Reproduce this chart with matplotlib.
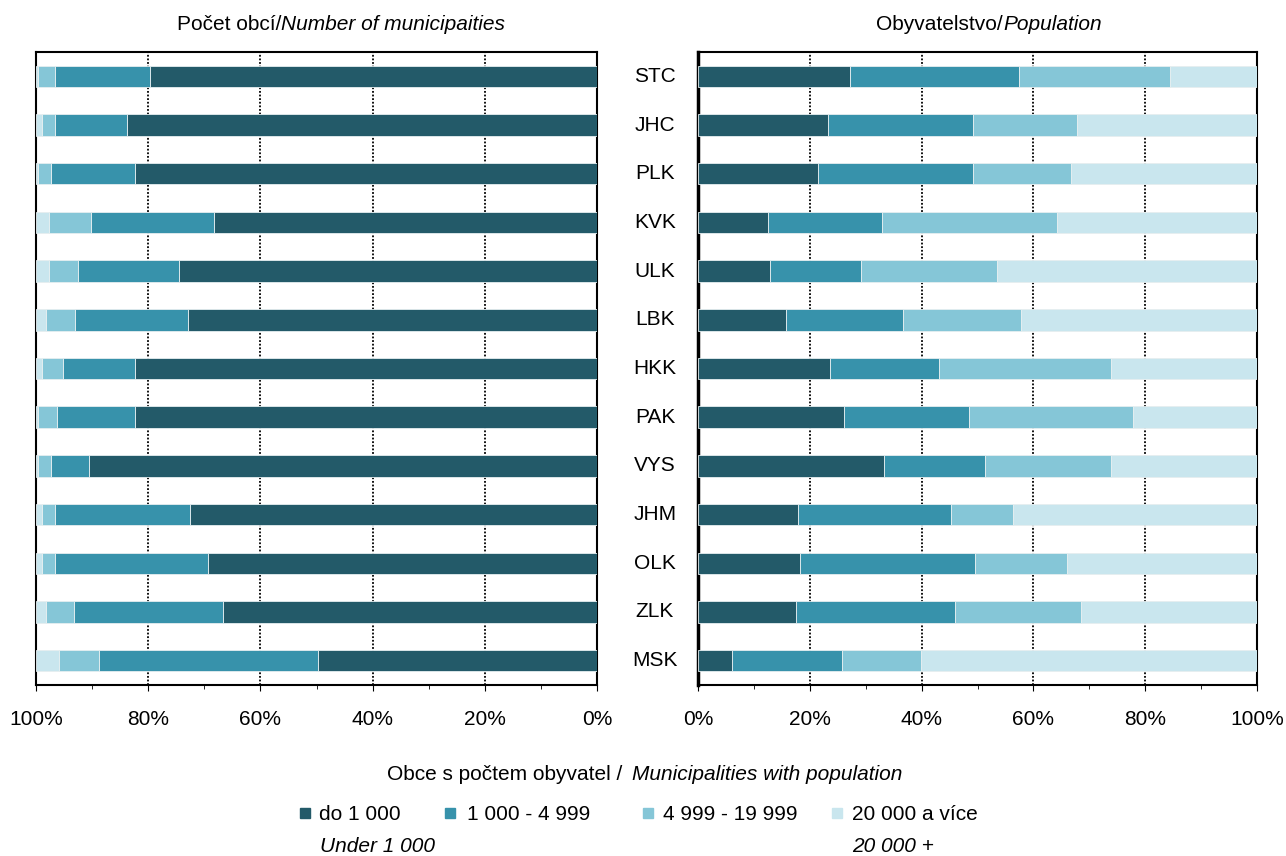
import matplotlib
matplotlib.use('Agg')
import matplotlib.pyplot as plt
from matplotlib.patches import Rectangle
from matplotlib.ticker import MultipleLocator, FuncFormatter
import numpy as np

plt.rcParams['font.family'] = ['Liberation Sans', 'DejaVu Sans']

# kraje (top -> bottom)
regions = ['STC', 'JHC', 'PLK', 'KVK', 'ULK', 'LBK', 'HKK',
           'PAK', 'VYS', 'JHM', 'OLK', 'ZLK', 'MSK']

# Pocet obci - podil (%)
obce_do1000 = [79.6, 83.8, 82.3, 68.2, 74.5, 72.9, 82.3, 82.3, 90.5, 72.6, 69.4, 66.6, 49.8]
obce_1000_4999 = [17.0, 12.8, 15.0, 22.0, 18.1, 20.1, 12.8, 13.9, 6.8, 24.0, 27.2, 26.7, 38.9]
obce_5000_19999 = [3.1, 2.4, 2.4, 7.5, 5.1, 5.3, 3.9, 3.5, 2.4, 2.4, 2.4, 5.0, 7.2]
obce_20000 = [0.3, 1.0, 0.3, 2.3, 2.3, 1.7, 1.0, 0.3, 0.3, 1.0, 1.0, 1.7, 4.1]

# Obyvatelstvo - podil (%)
obyv_do1000 = [27.2, 23.3, 21.4, 12.5, 12.8, 15.7, 23.7, 26.2, 33.3, 17.9, 18.3, 17.5, 6.1]
obyv_1000_4999 = [30.3, 25.9, 27.8, 20.4, 16.3, 21.0, 19.4, 22.3, 18.1, 27.3, 31.2, 28.5, 19.7]
obyv_5000_19999 = [27.0, 18.6, 17.6, 31.4, 24.4, 21.1, 30.7, 29.4, 22.4, 11.2, 16.6, 22.6, 14.1]
obyv_20000 = [15.5, 32.2, 33.2, 35.7, 46.5, 42.2, 26.2, 22.1, 26.2, 43.6, 33.9, 31.4, 60.1]

colors = ['#235a69', '#3792ab', '#85c6d7', '#c9e6ee']
legend_cz = ['do 1 000', '1 000 - 4 999', '4 999 - 19 999', '20 000 a více']


def stacked(ax, series):
    y = np.arange(len(regions))
    left = np.zeros(len(regions))
    for vals, c in zip(series, colors):
        vals = np.array(vals)
        ax.barh(y, vals, left=left, height=0.44, color=c,
                edgecolor='#e6eef0', linewidth=0.6, zorder=3)
        left += vals
    ax.set_ylim(len(regions) - 0.5, -0.5)
    ax.set_yticks([])
    ax.xaxis.set_major_locator(MultipleLocator(20))
    ax.xaxis.set_minor_locator(MultipleLocator(10))
    ax.xaxis.set_major_formatter(FuncFormatter(lambda v, p: '%d%%' % v))
    ax.tick_params(axis='x', which='major', labelsize=15, length=4,
                   pad=14, direction='out')
    ax.tick_params(axis='x', which='minor', length=3)
    ax.grid(axis='x', linestyle=(0, (1, 1)), color='black', linewidth=1.3, zorder=1)
    for s in ax.spines.values():
        s.set_color('black')
        s.set_linewidth(1.5)


fig = plt.figure(figsize=(12.86, 8.56), dpi=100)
ax1 = fig.add_axes([36 / 1286, 1 - 685 / 856, 561 / 1286, 633 / 856])
ax2 = fig.add_axes([698 / 1286, 1 - 685 / 856, 559 / 1286, 633 / 856])

stacked(ax1, [obce_do1000, obce_1000_4999, obce_5000_19999, obce_20000])
ax1.set_xlim(100, 0)
stacked(ax2, [obyv_do1000, obyv_1000_4999, obyv_5000_19999, obyv_20000])
ax2.set_xlim(0, 100)
ax2.spines['left'].set_linewidth(2.5)

for i, r in enumerate(regions):
    ax2.text((655 - 698) / 559, i, r, transform=ax2.get_yaxis_transform(),
             ha='center', va='center', fontsize=15)

# titles
fig.text(281 / 1286, 1 - 25 / 856, 'Počet obcí/', ha='right', va='center', fontsize=15)
fig.text(281 / 1286, 1 - 25 / 856, 'Number of municipaities', ha='left', va='center',
         fontsize=15, style='italic')
fig.text(1003 / 1286, 1 - 25 / 856, 'Obyvatelstvo/', ha='right', va='center', fontsize=15)
fig.text(1003 / 1286, 1 - 25 / 856, 'Population', ha='left', va='center',
         fontsize=15, style='italic')

# legend
fig.text(622 / 1286, 1 - 775 / 856, 'Obce s počtem obyvatel /', ha='right', va='center', fontsize=15)
fig.text(632 / 1286, 1 - 775 / 856, 'Municipalities with population', ha='left', va='center',
         fontsize=15, style='italic')
sq_x = [300, 445, 643, 832]
txt_x = [319, 467, 663, 852]
for xs, xt, c, lab in zip(sq_x, txt_x, colors, legend_cz):
    fig.add_artist(Rectangle((xs / 1286, 1 - 818 / 856), 10 / 1286, 10 / 856,
                             transform=fig.transFigure, color=c))
    fig.text(xt / 1286, 1 - 814 / 856, lab, ha='left', va='center', fontsize=15)
fig.text(320 / 1286, 1 - 847 / 856, 'Under 1 000', ha='left', va='center',
         fontsize=15, style='italic')
fig.text(852 / 1286, 1 - 847 / 856, '20 000 +', ha='left', va='center',
         fontsize=15, style='italic')

fig.savefig('out.png', dpi=100)
